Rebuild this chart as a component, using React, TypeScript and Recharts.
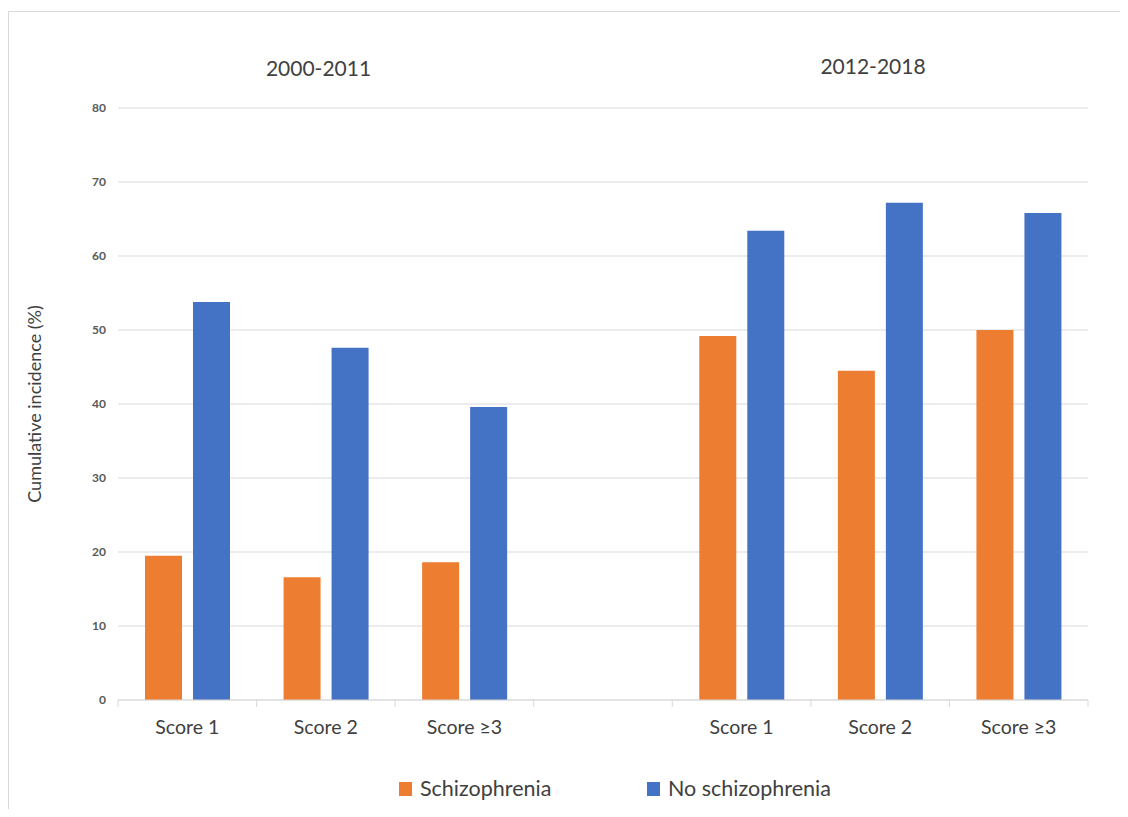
import { useEffect } from "react";
import { BarChart, Bar, XAxis, YAxis, CartesianGrid } from "recharts";

const categories = ["Score 1", "Score 2", "Score ≥3", "", "Score 1", "Score 2", "Score ≥3"];
const schizophrenia = [19.5, 16.6, 18.6, null, 49.2, 44.5, 50.0];
const noSchizophrenia = [53.8, 47.6, 39.6, null, 63.4, 67.2, 65.8];
const yTicks = [0, 10, 20, 30, 40, 50, 60, 70, 80];
const periods = ["2000-2011", "2012-2018"];

const series = [
  { key: "schizophrenia", name: "Schizophrenia", color: "#ED7D31" },
  { key: "noSchizophrenia", name: "No schizophrenia", color: "#4472C4" },
];

const data = categories.map((name, i) => ({
  name,
  schizophrenia: schizophrenia[i],
  noSchizophrenia: noSchizophrenia[i],
}));

const W = 1120;
const H = 809;
const GRID = "#d9d9d9";
const PLOT_W = 970;

// Excel-style category axis: little marks on the category edges, label in the middle
const CategoryTick = (props: any) => {
  const { x, y, payload, index, width, visibleTicksCount } = props;
  const count = visibleTicksCount || categories.length;
  const band = (typeof width === "number" && width > 0 ? width : PLOT_W) / count;
  return (
    <g>
      <line x1={x - band / 2} x2={x - band / 2} y1={y} y2={y + 7} stroke={GRID} />
      {index === count - 1 && (
        <line x1={x + band / 2} x2={x + band / 2} y1={y} y2={y + 7} stroke={GRID} />
      )}
      <text x={x} y={y + 20} dy="0.71em" textAnchor="middle" fontSize={19.5} fill="#404040">
        {payload.value}
      </text>
    </g>
  );
};

export default function App() {
  useEffect(() => {
    document.documentElement.style.overflow = "hidden";
  }, []);

  return (
    <div
      style={{
        position: "relative",
        width: W,
        height: H,
        marginBottom: -8,
        fontFamily: "Lato, sans-serif",
      }}
    >
      <div
        style={{
          position: "absolute",
          top: 3,
          left: 0,
          width: W,
          height: H - 3,
          borderTop: `1px solid ${GRID}`,
          borderLeft: `1px solid ${GRID}`,
          boxSizing: "border-box",
        }}
      />
      <BarChart
        width={W}
        height={H}
        data={data}
        margin={{ top: 100, right: 40, bottom: 87, left: 10 }}
        barSize={37}
        barGap={11}
        style={{ position: "absolute", top: 0, left: 0 }}
      >
        <CartesianGrid vertical={false} stroke={GRID} />
        <XAxis
          dataKey="name"
          height={30}
          axisLine={{ stroke: GRID }}
          tickLine={false}
          tickSize={0}
          tickMargin={0}
          interval={0}
          tick={<CategoryTick />}
        />
        <YAxis
          width={100}
          domain={[0, 80]}
          ticks={yTicks}
          axisLine={false}
          tickLine={false}
          tickSize={0}
          tickMargin={12}
          tick={{ fill: "#595959", fontSize: 12, fontWeight: 700 }}
          label={{
            value: "Cumulative incidence (%)",
            angle: -90,
            position: "insideLeft",
            offset: 17,
            style: { textAnchor: "middle", fill: "#404040", fontSize: 18 },
          }}
        />
        {series.map((s) => (
          <Bar key={s.key} dataKey={s.key} name={s.name} fill={s.color} isAnimationActive={false} />
        ))}
      </BarChart>
      <svg
        width={W}
        height={H}
        style={{ position: "absolute", top: 0, left: 0, pointerEvents: "none" }}
      >
        <text x={310.5} y={68} textAnchor="middle" fontSize={21} fill="#404040">
          {periods[0]}
        </text>
        <text x={865} y={66} textAnchor="middle" fontSize={21} fill="#404040">
          {periods[1]}
        </text>
        {series.map((s, i) => {
          const x = i === 0 ? 391 : 639;
          return (
            <g key={s.key}>
              <rect x={x} y={774} width={13} height={14} fill={s.color} />
              <text x={x + 21} y={788} fontSize={21.5} fill="#404040">
                {s.name}
              </text>
            </g>
          );
        })}
      </svg>
    </div>
  );
}
